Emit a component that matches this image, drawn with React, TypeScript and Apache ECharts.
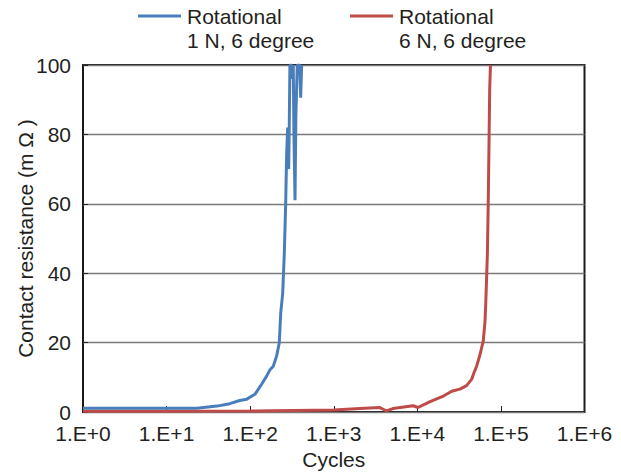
import React, { useEffect, useRef } from "react";
import * as echarts from "echarts";

const seriesNames = ["Rotational\n1 N, 6 degree", "Rotational\n6 N, 6 degree"];
const seriesColors = ["#4a7ebb", "#be4b48"];

// [cycles, contact resistance mΩ]
const blueData: [number, number][] = [
  [1, 1.1], [6, 1.1], [23, 1.1], [40, 1.7], [57, 2.4], [75, 3.3], [91, 3.7],
  [114, 5.1], [137, 8], [158, 10.4], [173, 12.2], [189, 13.2], [207, 16.1],
  [223, 19.9], [232, 28.5], [245, 34.2], [256, 45.6], [266, 60], [273, 74],
  [281, 82], [289, 70], [294, 84], [299, 100], [310, 100], [322, 96], [328, 100],
  [333, 82], [344, 61], [352, 85], [366, 100], [380, 100], [392, 100],
  [402, 90.6], [413, 100],
];

const redData: [number, number][] = [
  [1, 0.2], [10, 0.2], [100, 0.3], [1000, 0.6], [2050, 1.0], [3560, 1.3],
  [4280, 0.3], [5100, 1.0], [8900, 1.8], [10200, 1.3], [14200, 3.0],
  [20500, 4.6], [25800, 6.0], [32300, 6.6], [38800, 7.6], [44600, 9.4],
  [48000, 11.5], [51200, 13.2], [56200, 16.5], [61500, 20.5], [64500, 26],
  [65800, 31], [68900, 45.6], [70500, 60], [72200, 79], [73400, 93], [75000, 100],
];

const xAxisTitle = "Cycles";
const yAxisTitle = "Contact resistance (m Ω )";

export default function App() {
  const ref = useRef<HTMLDivElement>(null);
  useEffect(() => {
    if (!ref.current) return;
    const chart = echarts.init(ref.current, null, { renderer: "svg" });
    const font = "'Liberation Sans', Arial, Helvetica, sans-serif";
    const txt = "#231f20";
    const fs = 21;
    const legendX = [138, 350];
    chart.setOption({
      animation: false,
      textStyle: { fontFamily: font },
      grid: {
        left: 83, right: 36.5, top: 65, bottom: 60.5,
        show: true, borderColor: "#1a1a1a", borderWidth: 2,
      },
      xAxis: {
        type: "log", logBase: 10, min: 1, max: 1000000,
        name: xAxisTitle, nameLocation: "middle", nameGap: 37,
        nameMoveOverlap: false,
        nameTextStyle: { fontSize: fs, color: txt, fontFamily: font },
        axisLine: { show: false },
        axisTick: { show: true, inside: true, length: 6, lineStyle: { color: "#222", width: 1 } },
        minorTick: { show: false },
        splitLine: { show: false },
        axisLabel: {
          fontSize: fs, color: txt, margin: 11, fontFamily: font,
          formatter: (v: number) => "1.E+" + Math.round(Math.log10(v)),
        },
      },
      yAxis: {
        type: "value", min: 0, max: 100, interval: 20,
        name: yAxisTitle, nameLocation: "middle", nameGap: 47,
        nameMoveOverlap: false,
        nameTextStyle: { fontSize: fs, color: txt, fontFamily: font },
        axisLine: { show: false },
        axisTick: { show: true, inside: true, length: 5, lineStyle: { color: "#222", width: 1 } },
        splitLine: { show: true, lineStyle: { color: "#7a7a7a", width: 1.3 } },
        axisLabel: { fontSize: fs, color: txt, margin: 12, fontFamily: font },
      },
      series: [
        {
          name: seriesNames[0], type: "line", data: blueData, showSymbol: false,
          lineStyle: { color: seriesColors[0], width: 3 }, itemStyle: { color: seriesColors[0] },
          clip: true, z: 3,
        },
        {
          name: seriesNames[1], type: "line", data: redData, showSymbol: false,
          lineStyle: { color: seriesColors[1], width: 3 }, itemStyle: { color: seriesColors[1] },
          clip: true, z: 2,
        },
      ],
      graphic: seriesNames.flatMap((n, i) => [
        {
          type: "line",
          shape: { x1: legendX[i], y1: 16, x2: legendX[i] + 43, y2: 16 },
          style: { stroke: seriesColors[i], lineWidth: 3 },
        },
        {
          type: "text", x: legendX[i] + 49, y: 4,
          style: {
            text: n, font: `${fs}px ${font}`, fill: txt, lineHeight: 24,
            textVerticalAlign: "top", verticalAlign: "top",
          },
        },
      ]),
    });
    return () => chart.dispose();
  }, []);
  return <div ref={ref} style={{ width: 621, height: 475, position: "absolute", left: 0, top: 0 }} />;
}
